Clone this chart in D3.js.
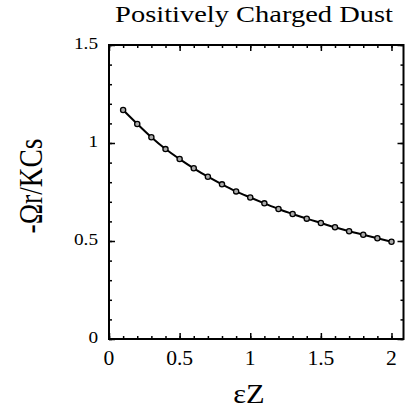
<!DOCTYPE html>
<html lang="en">
<head>
    <meta charset="UTF-8">
    <title>Positively Charged Dust</title>
    <script src="https://cdnjs.cloudflare.com/ajax/libs/d3/7.8.5/d3.min.js"></script>
    <style>
        body { margin: 0; padding: 0; background: #fff; }
        svg { display: block; }
    </style>
</head>
<body>
    <div id="chart"></div>
    <script>
        // data
        const epsZ = [0.1, 0.2, 0.3, 0.4, 0.5, 0.6, 0.7, 0.8, 0.9, 1.0,
                      1.1, 1.2, 1.3, 1.4, 1.5, 1.6, 1.7, 1.8, 1.9, 2.0];
        const omega = [1.168, 1.097, 1.029, 0.969, 0.918, 0.871, 0.828, 0.789, 0.753, 0.722,
                       0.692, 0.663, 0.638, 0.614, 0.592, 0.570, 0.550, 0.532, 0.514, 0.496];
        const xTicks = [0, 0.5, 1, 1.5, 2];
        const yTicks = [0, 0.5, 1, 1.5];
        const xMinor = d3.range(0, 2.09, 0.1);
        const yMinor = d3.range(0, 1.51, 0.1);

        const W = 405, H = 409;
        const plotL = 109, plotR = 403.5, plotT = 45, plotB = 339;
        const FONT = "Liberation Serif";

        const svg = d3.select("#chart").append("svg")
            .attr("width", W)
            .attr("height", H);

        const x = d3.scaleLinear().domain([0, 2.085]).range([plotL, plotR]);
        const y = d3.scaleLinear().domain([0, 1.5]).range([plotB, plotT]);

        // ticks inward on all four sides
        function tickSet(axis, scale, vals, size) {
            return axis(scale).tickValues(vals).tickSize(size).tickFormat("");
        }
        const g = svg.append("g");
        g.append("g").attr("transform", `translate(0,${plotB})`)
            .call(tickSet(d3.axisTop, x, xMinor, 3));
        g.append("g").attr("transform", `translate(0,${plotB})`)
            .call(tickSet(d3.axisTop, x, xTicks, 6));
        g.append("g").attr("transform", `translate(0,${plotT})`)
            .call(tickSet(d3.axisBottom, x, xMinor, 3));
        g.append("g").attr("transform", `translate(0,${plotT})`)
            .call(tickSet(d3.axisBottom, x, xTicks, 6));
        g.append("g").attr("transform", `translate(${plotL},0)`)
            .call(tickSet(d3.axisRight, y, yMinor, 3));
        g.append("g").attr("transform", `translate(${plotL},0)`)
            .call(tickSet(d3.axisRight, y, yTicks, 6));
        g.append("g").attr("transform", `translate(${plotR},0)`)
            .call(tickSet(d3.axisLeft, y, yMinor, 3));
        g.append("g").attr("transform", `translate(${plotR},0)`)
            .call(tickSet(d3.axisLeft, y, yTicks, 6));
        g.selectAll(".domain").remove();
        g.selectAll(".tick line").attr("stroke", "#000").attr("stroke-width", 1.5);

        // frame
        svg.append("rect")
            .attr("x", plotL).attr("y", plotT)
            .attr("width", plotR - plotL).attr("height", plotB - plotT)
            .attr("fill", "none").attr("stroke", "#000").attr("stroke-width", 2);

        // the scanned figure is a bit wider than tall, so text gets a small x stretch
        function label(px, py, size, sx, anchor, str) {
            return svg.append("text")
                .attr("transform", `translate(${px},${py}) scale(${sx},1)`)
                .attr("font-family", FONT)
                .style("font-family", FONT)
                .attr("font-size", size)
                .attr("text-anchor", anchor)
                .attr("fill", "#000")
                .text(str);
        }

        // tick labels
        xTicks.forEach(d => label(x(d), 365, 20, 1.08, "middle", d));
        yTicks.forEach(d => label(98, y(d) + 4, 17.5, 1.1, "end", d));

        // curve
        const pts = epsZ.map((e, i) => [e, omega[i]]);
        svg.append("path")
            .datum(pts)
            .attr("fill", "none").attr("stroke", "#000").attr("stroke-width", 2)
            .attr("d", d3.line().x(d => x(d[0])).y(d => y(d[1])).curve(d3.curveMonotoneX));
        svg.selectAll(".pt").data(pts).enter().append("circle")
            .attr("cx", d => x(d[0])).attr("cy", d => y(d[1]))
            .attr("r", 2.6)
            .attr("fill", "#aaa").attr("stroke", "#000").attr("stroke-width", 1.3);

        // title: fit to the width seen in the figure
        const title = label(254, 22, 22.5, 1, "middle", "Positively Charged Dust");
        const tw = title.node().getComputedTextLength();
        title.attr("transform", `translate(254,22) scale(${278 / tw},1)`);

        label(249, 403, 27, 1.13, "middle", "\u03b5Z");

        // y label, rotated
        const ylab = svg.append("text")
            .attr("font-family", FONT)
            .style("font-family", FONT)
            .attr("font-size", 26)
            .attr("text-anchor", "middle")
            .attr("fill", "#000")
            .text("-\u03a9r/KCs");
        const len = ylab.node().getComputedTextLength();
        const fs = 26 * 95 / len;
        ylab.attr("font-size", fs);
        const sx = 23 / (0.68 * fs);
        ylab.attr("transform", `translate(42,186) scale(${sx},1) rotate(-90)`);
    </script>
</body>
</html>
